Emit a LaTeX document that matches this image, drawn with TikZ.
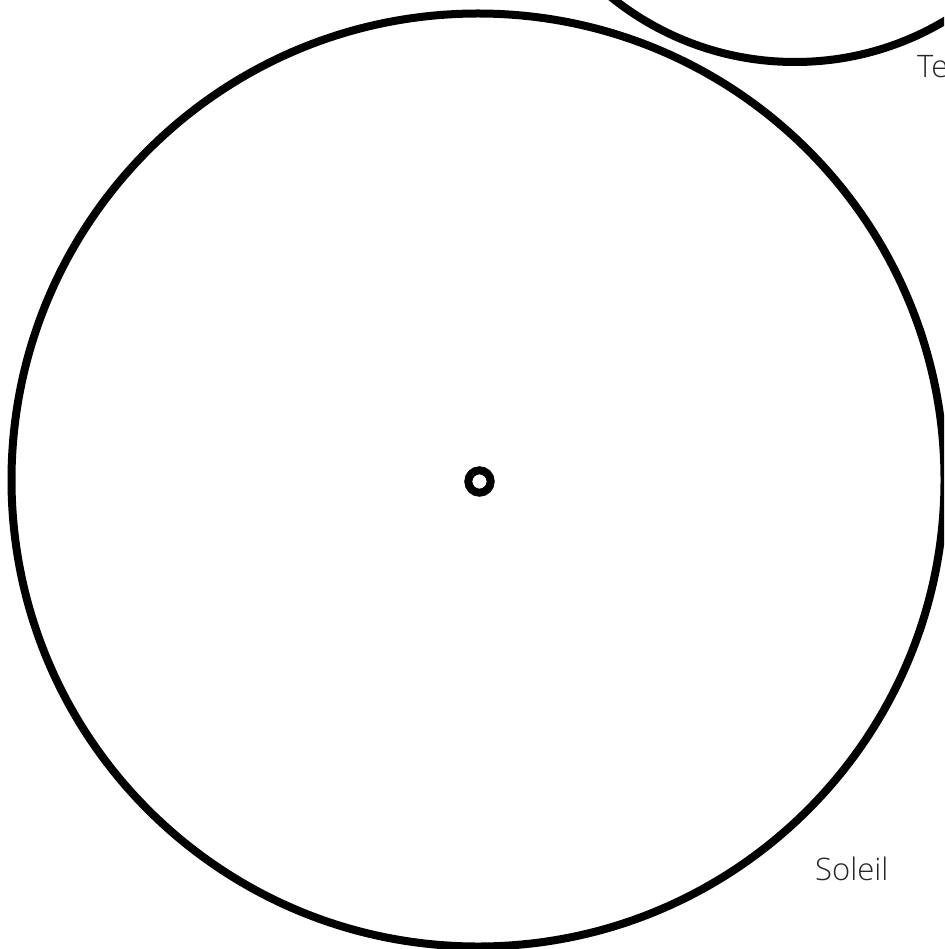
\documentclass[tikz,border=0pt]{standalone}
\usepackage{fontspec}
\setmainfont{Open Sans Light}
\begin{document}
\begin{tikzpicture}[x=1pt,y=-1pt,
  ring/.style={draw=black, line width=8pt},
  lbl/.style={anchor=base west, inner sep=0pt, text=black!85, font=\fontsize{31}{36}\selectfont}]
\useasboundingbox (0,0) rectangle (944,949);
\clip (0,0) rectangle (944,949);
\coordinate (sun) at (478,480);
\coordinate (core) at (479.5,481.5);
\coordinate (earth) at (795,-231);
\draw[ring] (sun) circle[radius=466.5pt];
\draw[ring] (core) circle[radius=11.2pt];
\draw[ring] (earth) circle[radius=293pt];
\node[lbl] (soleil) at (815,880) {Soleil};
\node[lbl] (terre) at (917,78) {Terre};
\end{tikzpicture}
\end{document}
